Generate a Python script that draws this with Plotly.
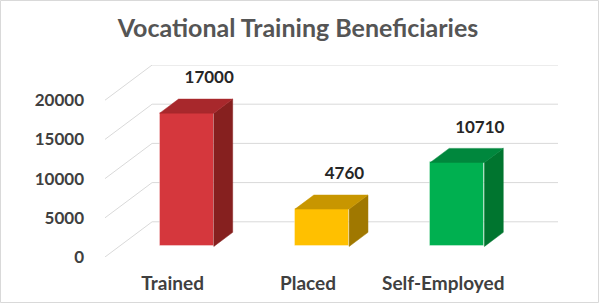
import plotly.graph_objects as go

categories = ["Trained", "Placed", "Self-Employed"]
values = [17000, 4760, 10710]
front_colors = ["#D5373D", "#FFC000", "#00B050"]
top_colors = ["#A8282C", "#C89600", "#00873D"]
side_colors = ["#86201F", "#A07800", "#00752F"]
y_ticks = [0, 5000, 10000, 15000, 20000]
y_ticktext = ["0", "5000", "10000", "15000", "20000"]

# oblique projection parameters (full depth)
DX = 0.348      # x-shift in category units for full depth
DY = 4490       # y-shift in value units for full depth
D_FRONT = 0.3   # bar front plane depth
D_BACK = 0.7    # bar back plane depth
BAR_W = 0.4

W, H = 600, 305
L, R, T, B = 105, 42, 65, 48

fig = go.Figure()

xs = list(range(len(categories)))

# front faces (bars)
fig.add_trace(go.Bar(
    x=[i + D_FRONT * DX for i in xs], y=values, base=D_FRONT * DY,
    width=BAR_W, marker=dict(color=front_colors, line=dict(color="rgba(255,255,255,0.35)", width=1)),
    hoverinfo="skip", showlegend=False))

dd = (D_BACK - D_FRONT)
for i, v in enumerate(values):
    xl = i + D_FRONT * DX - BAR_W / 2
    xr = i + D_FRONT * DX + BAR_W / 2
    b = D_FRONT * DY
    top = b + v
    # side face
    fig.add_trace(go.Scatter(
        x=[xr, xr, xr + dd * DX, xr + dd * DX, xr],
        y=[b, top, top + dd * DY, b + dd * DY, b],
        fill="toself", fillcolor=side_colors[i], mode="lines",
        line=dict(color=side_colors[i], width=0.5), hoverinfo="skip", showlegend=False))
    # top face
    fig.add_trace(go.Scatter(
        x=[xl, xr, xr + dd * DX, xl + dd * DX, xl],
        y=[top, top, top + dd * DY, top + dd * DY, top],
        fill="toself", fillcolor=top_colors[i], mode="lines",
        line=dict(color=top_colors[i], width=0.5), hoverinfo="skip", showlegend=False))

# data labels
fig.add_trace(go.Scatter(
    x=[i + 0.27 for i in xs], y=[v + 5700 for v in values],
    text=[str(v) for v in values], mode="text",
    textfont=dict(family="Lato", size=17, color="#262626", weight="bold"),
    textposition="middle center", hoverinfo="skip", showlegend=False))

# gridlines (walls) as shapes below traces
shapes = []
x_left = -0.5
x_right = len(categories) - 0.5
for t in y_ticks:
    shapes.append(dict(type="line", xref="x", yref="y", layer="below",
                       x0=x_left, y0=t, x1=x_left + DX, y1=t + DY,
                       line=dict(color="#D9D9D9", width=1)))
    shapes.append(dict(type="line", xref="x", yref="y", layer="below",
                       x0=x_left + DX, y0=t + DY, x1=x_right + DX, y1=t + DY,
                       line=dict(color="#D9D9D9", width=1)))

# outer border of chart
pw = W - L - R
ph = H - T - B
shapes.append(dict(type="rect", xref="paper", yref="paper",
                   x0=(0.5 - L) / pw, x1=(598.5 - L) / pw,
                   y0=(H - B - 302.5) / ph, y1=(H - B - 0.5) / ph,
                   line=dict(color="#D9D9D9", width=1), fillcolor="rgba(0,0,0,0)"))

fig.update_layout(
    width=W, height=H,
    margin=dict(l=L, r=R, t=T, b=B),
    paper_bgcolor="white", plot_bgcolor="white",
    title=dict(text="Vocational Training Beneficiaries", x=298 / W, xref="container",
               xanchor="center", y=1 - 28 / H, yref="container", yanchor="middle",
               font=dict(family="Lato", size=25, color="#555555", weight="bold")),
    shapes=shapes,
    bargap=0,
    xaxis=dict(range=[x_left, x_right + DX], tickvals=xs, ticktext=categories,
               showgrid=False, zeroline=False, showline=False, ticks="",
               ticklabelstandoff=13,
               tickfont=dict(family="Lato", size=19, color="#404040", weight="bold")),
    yaxis=dict(range=[0, 20000 + DY], tickvals=y_ticks, ticktext=y_ticktext,
               showgrid=False, zeroline=False, showline=False, ticks="",
               ticklabelstandoff=20,
               tickfont=dict(family="Lato", size=17, color="#404040", weight="bold")),
)

fig.write_html("out.html")
